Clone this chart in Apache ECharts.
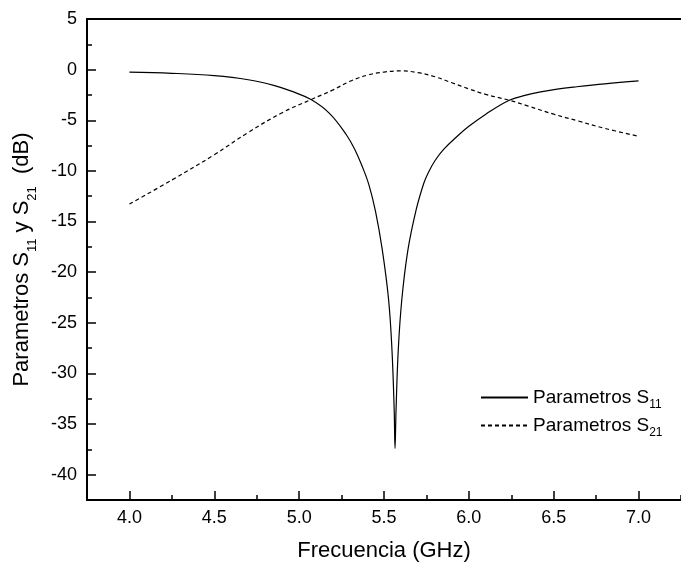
<!DOCTYPE html>
<html>
<head>
<meta charset="utf-8">
<script src="https://cdn.jsdelivr.net/npm/echarts@6/dist/echarts.min.js"></script>
<style>
html,body{margin:0;padding:0;background:#fff;}
#chart{width:681px;height:569px;}
</style>
</head>
<body>
<div id="chart"></div>
<script>
// Frequency (GHz) / value (dB)
var s11Freq = [4.00, 4.25, 4.50, 4.70, 4.85, 4.95, 5.07, 5.18, 5.28, 5.33, 5.37, 5.41, 5.45, 5.49, 5.527, 5.547, 5.56, 5.565, 5.571, 5.584, 5.605, 5.641, 5.69, 5.734, 5.76, 5.80, 5.85, 5.93, 6.00, 6.10, 6.238, 6.33, 6.423, 6.52, 6.62, 6.80, 7.00];
var s11Vals = [-0.24, -0.36, -0.60, -1.00, -1.55, -2.10, -2.96, -4.34, -6.48, -7.96, -9.5, -11.3, -14.0, -17.8, -22.7, -27.7, -33.6, -37.4, -33.6, -27.7, -22.7, -17.8, -13.8, -11.24, -10.2, -9.0, -7.9, -6.6, -5.6, -4.4, -3.03, -2.55, -2.2, -1.93, -1.72, -1.40, -1.12];
var s21Freq = [4.00, 4.25, 4.50, 4.70, 4.90, 5.07, 5.20, 5.30, 5.40, 5.50, 5.60, 5.70, 5.80, 5.90, 6.00, 6.10, 6.24, 6.35, 6.50, 6.65, 6.80, 7.00];
var s21Vals = [-13.27, -10.9, -8.4, -6.2, -4.25, -2.96, -2.0, -1.15, -0.55, -0.24, -0.12, -0.3, -0.7, -1.3, -1.9, -2.45, -3.03, -3.6, -4.4, -5.1, -5.8, -6.58];

var xLabels = [4.0, 4.5, 5.0, 5.5, 6.0, 6.5, 7.0];
var xMinor = [4.25, 4.75, 5.25, 5.75, 6.25, 6.75, 7.25];
var yLabels = [-40, -35, -30, -25, -20, -15, -10, -5, 0, 5];
var yMinor = [-37.5, -32.5, -27.5, -22.5, -17.5, -12.5, -7.5, -2.5, 2.5];

function pairs(xs, ys){ return xs.map(function(x,i){ return [x, ys[i]]; }); }

var FONT = 'Liberation Sans, Arial, sans-serif';
var chart = echarts.init(document.getElementById('chart'), null, {renderer:'canvas'});
var axisLine = {show:true, onZero:false, lineStyle:{color:'#000', width:2}};
chart.setOption({
  animation:false,
  backgroundColor:'#fff',
  grid:{left:87, top:19, width:601.5, height:481, containLabel:false},
  legend:{
    orient:'vertical', left:475, top:383, itemWidth:47, itemHeight:12, itemGap:5,
    data:['S11','S21'],
    itemStyle:{opacity:0},
    formatter:function(n){ return 'Parametros S{sub|' + n.slice(1) + '}'; },
    textStyle:{fontFamily:FONT, fontSize:19, color:'#000',
      rich:{sub:{fontFamily:FONT, fontSize:12, color:'#000', verticalAlign:'bottom', lineHeight:27}}}
  },
  xAxis:[
    {type:'value', min:3.75, max:7.25, position:'bottom', axisLine:axisLine,
     axisTick:{show:true, inside:true, length:9, lineStyle:{color:'#000', width:1.5}, customValues:xLabels},
     axisLabel:{customValues:xLabels, formatter:function(v){return v.toFixed(1);}, fontFamily:FONT, fontSize:18, color:'#000', margin:9},
     splitLine:{show:false},
     name:'Frecuencia (GHz)', nameLocation:'middle', nameGap:40,
     nameTextStyle:{fontFamily:FONT, fontSize:22, color:'#000'}},
    {type:'value', min:3.75, max:7.25, position:'bottom', axisLine:{show:false, onZero:false},
     axisTick:{show:true, inside:true, length:5, lineStyle:{color:'#000', width:1.5}, customValues:xMinor},
     axisLabel:{show:false}, splitLine:{show:false}},
    {type:'value', min:3.75, max:7.25, position:'top', axisLine:axisLine,
     axisTick:{show:false}, axisLabel:{show:false}, splitLine:{show:false}}
  ],
  yAxis:[
    {type:'value', min:-42.5, max:5, position:'left', axisLine:axisLine,
     axisTick:{show:true, inside:true, length:9, lineStyle:{color:'#000', width:1.5}, customValues:yLabels},
     axisLabel:{customValues:yLabels, fontFamily:FONT, fontSize:18, color:'#000', margin:10},
     splitLine:{show:false},
     name:'Parametros S{sub|11} y S{sub|21}  (dB)', nameLocation:'middle', nameGap:48,
     nameTextStyle:{fontFamily:FONT, fontSize:22, color:'#000',
       rich:{sub:{fontFamily:FONT, fontSize:13, color:'#000', verticalAlign:'bottom', lineHeight:34}}}},
    {type:'value', min:-42.5, max:5, position:'left', axisLine:{show:false, onZero:false},
     axisTick:{show:true, inside:true, length:5, lineStyle:{color:'#000', width:1.5}, customValues:yMinor},
     axisLabel:{show:false}, splitLine:{show:false}}
  ],
  series:[
    {name:'S11', type:'line', xAxisIndex:0, yAxisIndex:0, data:pairs(s11Freq, s11Vals),
     symbol:'none', smooth:0.4, lineStyle:{color:'#000', width:1.2}, itemStyle:{color:'#000'}},
    {name:'S21', type:'line', xAxisIndex:0, yAxisIndex:0, data:pairs(s21Freq, s21Vals),
     symbol:'none', smooth:0.4, lineStyle:{color:'#000', width:1.2, type:[4,3]}, itemStyle:{color:'#000'}}
  ]
});
</script>
</body>
</html>
